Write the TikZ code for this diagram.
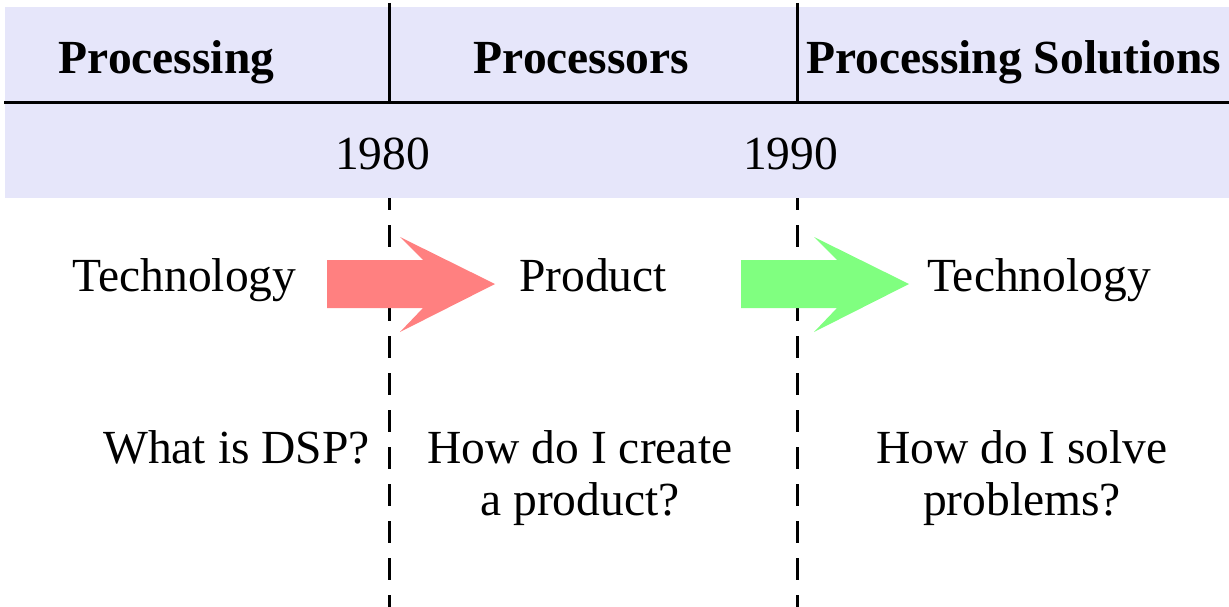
\documentclass[tikz,border=0pt]{standalone}
\usepackage{fontspec}
\setmainfont{Liberation Serif}
\definecolor{bandcol}{RGB}{230,230,250}
\definecolor{redarrow}{RGB}{255,128,128}
\definecolor{greenarrow}{RGB}{128,255,128}
\tikzset{
  txt/.style={inner sep=0pt, anchor=base, font=\fontsize{47.5}{52}\selectfont, align=center},
  head/.style={txt, font=\fontsize{47.5}{52}\selectfont\bfseries},
  rule/.style={line width=3pt},
  dashrule/.style={line width=3pt, dash pattern=on 22pt off 15pt},
}
\begin{document}
\begin{tikzpicture}[x=1pt,y=-1pt]
\useasboundingbox (0,0) rectangle (1229,607);
% dashed time markers (behind the band)
\coordinate (d1t) at (389,3);
\coordinate (d1b) at (389,607);
\coordinate (d2t) at (797,3);
\coordinate (d2b) at (797,607);
\draw[dashrule] (d1t) -- (d1b);
\draw[dashrule] (d2t) -- (d2b);
% band
\fill[bandcol] (5,7) rectangle (1229,198);
\coordinate (hl) at (4,103);
\coordinate (hr) at (1229,103);
\draw[rule] (hl) -- (hr);
\coordinate (v1t) at (389,5);
\coordinate (v1b) at (389,103);
\coordinate (v2t) at (797,5);
\coordinate (v2b) at (797,103);
\draw[rule] (v1t) -- (v1b);
\draw[rule] (v2t) -- (v2b);
% headers
\node[head] (h1) at (166.5,74) {Processing};
\node[head] (h2) at (581.5,74) {Processors};
\node[head] (h3) at (1014,74) {Processing Solutions};
% years
\node[txt] (y1) at (382.5,170) {1980};
\node[txt] (y2) at (790.5,170) {1990};
% arrows
\fill[redarrow] (327,260) -- (423,260) -- (400,237) -- (495,284) -- (400,332) -- (423,308) -- (327,308) -- cycle;
\fill[greenarrow] (741,260) -- (837,260) -- (814,237) -- (909,284) -- (814,332) -- (837,308) -- (741,308) -- cycle;
% middle row
\node[txt] (t1) at (184.5,291) {Technology};
\node[txt] (p1) at (593,291) {Product};
\node[txt] (t2) at (1039,291) {Technology};
% questions
\node[txt] (q1) at (236.5,463) {What is DSP?};
\node[txt] (q2) at (580,515) {How do I create\\a product?};
\node[txt] (q3) at (1022,515) {How do I solve\\problems?};
\end{tikzpicture}
\end{document}
